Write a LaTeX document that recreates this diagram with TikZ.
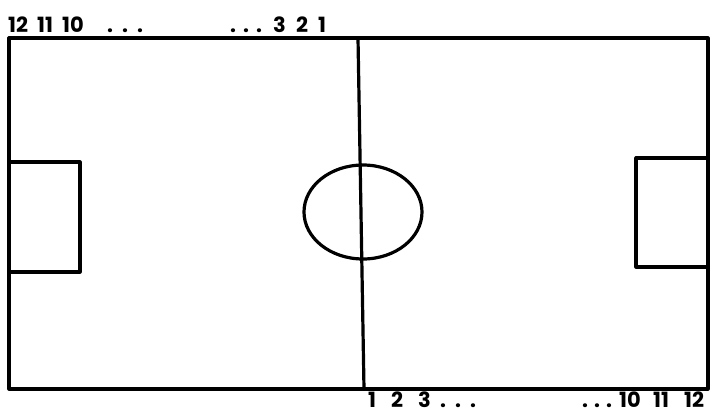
\documentclass[tikz,border=0pt]{standalone}
\usepackage{fontspec}
\setmainfont{Poppins}
\begin{document}
\begin{tikzpicture}[x=1pt,y=-1pt,
  pitch/.style={line width=3.2pt,line cap=round,line join=round},
  lbl/.style={inner sep=0pt,anchor=base west,font=\fontsize{21}{21}\selectfont\bfseries}]
\useasboundingbox[fill=white] (0,0) rectangle (723,415);
% outer field
\draw[pitch] (9,38) rectangle (708,389);
% halfway line
\draw[pitch] (358,38) -- (364,389);
% centre circle
\draw[pitch] (363,212) ellipse [x radius=59, y radius=47];
% penalty boxes
\draw[pitch] (9,162) -- (80,162) -- (80,272) -- (9,272);
\draw[pitch] (708,158) -- (636,158) -- (636,267) -- (708,267);
% top labels
\node[lbl] (t12) at (8,32) {12};
\node[lbl] (t11) at (37,32) {11};
\node[lbl] (t10) at (62,32) {10};
\node[lbl] (tdl) at (107,32) {.\hspace{9pt}.\hspace{9pt}.};
\node[lbl] (tdr) at (230,32) {.\hspace{7pt}.\hspace{7pt}.};
\node[lbl] (t3) at (273,32) {3};
\node[lbl] (t2) at (296,32) {2};
\node[lbl] (t1) at (318,32) {1};
% bottom labels
\node[lbl] (b1) at (368,407) {1};
\node[lbl] (b2) at (391,407) {2};
\node[lbl] (b3) at (418,407) {3};
\node[lbl] (bdl) at (440,407) {.\hspace{9pt}.\hspace{9pt}.};
\node[lbl] (bdr) at (582,407) {.\hspace{6pt}.\hspace{6pt}.};
\node[lbl] (b10) at (619,407) {10};
\node[lbl] (b11) at (653,407) {11};
\node[lbl] (b12) at (684,407) {12};
\end{tikzpicture}
\end{document}
